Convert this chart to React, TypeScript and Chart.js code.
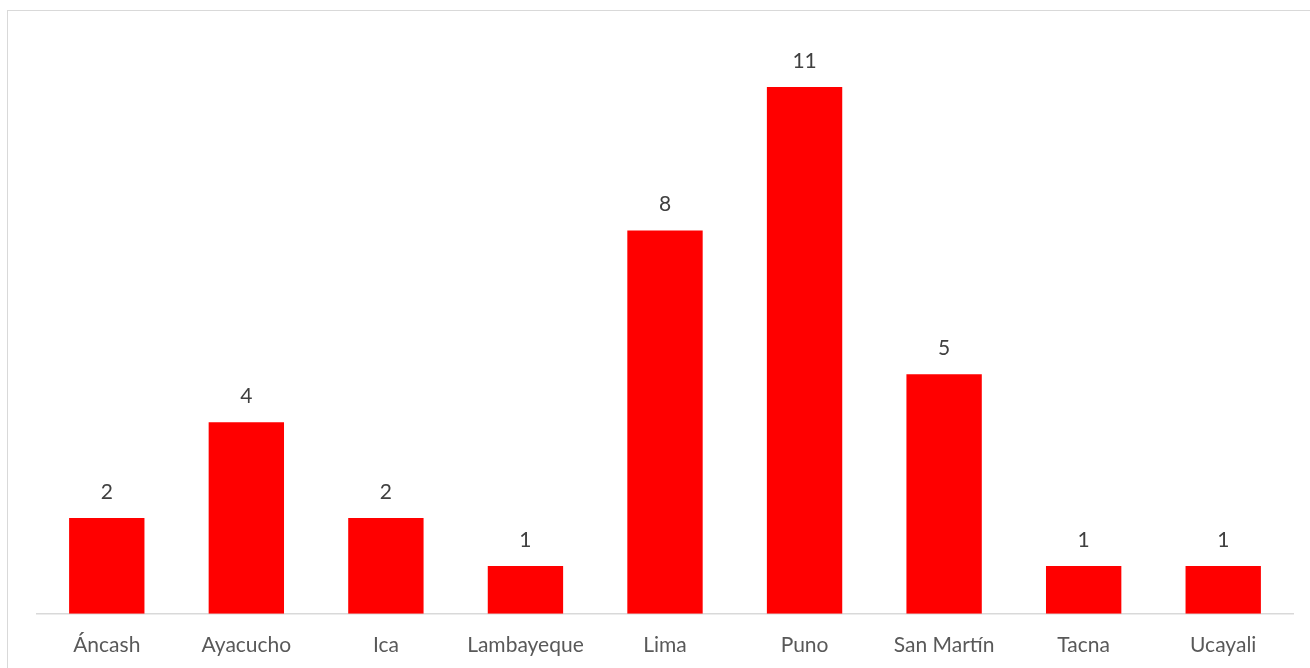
import React, { useEffect, useRef } from "react";
import { Chart, registerables } from "chart.js";

Chart.register(...registerables);

const categories = ["Áncash", "Ayacucho", "Ica", "Lambayeque", "Lima", "Puno", "San Martín", "Tacna", "Ucayali"];
const values = [2, 4, 2, 1, 8, 11, 5, 1, 1];

const FONT = "Lato, 'Noto Sans', sans-serif";

const dataLabels = {
  id: "dataLabels",
  afterDatasetsDraw(chart: any) {
    const ctx = chart.ctx;
    const meta = chart.getDatasetMeta(0);
    ctx.save();
    ctx.fillStyle = "#404040";
    ctx.font = `21px ${FONT}`;
    ctx.textAlign = "center";
    ctx.textBaseline = "middle";
    meta.data.forEach((bar: any, i: number) => {
      ctx.fillText(String(values[i]), bar.x, bar.y - 26);
    });
    ctx.restore();
  },
};

export default function App() {
  const ref = useRef<HTMLCanvasElement>(null);
  useEffect(() => {
    if (!ref.current) return;
    const chart = new Chart(ref.current, {
      type: "bar",
      data: {
        labels: categories,
        datasets: [
          {
            data: values,
            backgroundColor: "#ff0000",
            borderWidth: 0,
            barPercentage: 0.54,
            categoryPercentage: 1,
          },
        ],
      },
      options: {
        animation: false,
        responsive: false,
        maintainAspectRatio: false,
        layout: { padding: { left: 37, right: 17, top: 39, bottom: 0 } },
        plugins: { legend: { display: false }, tooltip: { enabled: false } },
        scales: {
          x: {
            grid: { display: false, drawTicks: false },
            border: { display: true, color: "#d9d9d9", width: 1.5 },
            ticks: { color: "#595959", font: { family: FONT, size: 21 }, padding: 19, maxRotation: 0 },
          },
          y: {
            display: false,
            min: 0,
            max: 12,
          },
        },
      },
      plugins: [dataLabels],
    });
    return () => chart.destroy();
  }, []);
  return (
    <div style={{ position: "absolute", left: 0, top: 0, width: 1310, height: 668, overflow: "hidden", background: "#fff" }}>
      <div
        style={{
          position: "absolute",
          left: 7,
          top: 10,
          width: 1340,
          height: 700,
          border: "1.5px solid #d9d9d9",
          boxSizing: "border-box",
        }}
      />
      <canvas ref={ref} width={1310} height={677} style={{ position: "absolute", left: 0, top: 0, width: 1310, height: 677 }} />
    </div>
  );
}
